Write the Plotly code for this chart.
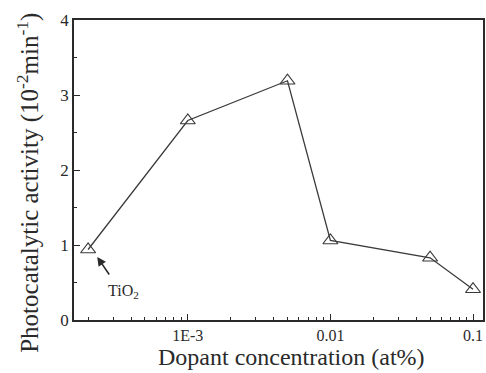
import plotly.graph_objects as go

# Data
dopant_conc = [0.0002, 0.001, 0.005, 0.01, 0.05, 0.1]
activity = [0.94, 2.66, 3.19, 1.06, 0.83, 0.41]
x_tickvals = [0.001, 0.01, 0.1]
x_ticktext = ["1E-3", "0.01", "0.1"]
y_tickvals = [0, 1, 2, 3, 4]

FONT = "Liberation Serif"
INK = "#2a2a2a"

fig = go.Figure()
fig.add_trace(go.Scatter(
    x=dopant_conc, y=activity, mode="lines+markers",
    line=dict(color="#3a3a3a", width=1.3),
    marker=dict(symbol="triangle-up-open", size=13, color="#3a3a3a",
                line=dict(width=1.2, color="#3a3a3a")),
    showlegend=False, cliponaxis=False,
))

fig.add_annotation(x=-3.635, y=0.84, xref="x", yref="y", text="",
                   showarrow=True, arrowhead=2, arrowsize=1.1, arrowwidth=1.6,
                   arrowcolor=INK, ax=13, ay=19)
fig.add_annotation(x=-3.45, y=0.38, xref="x", yref="y",
                   text="TiO<sub>2</sub>", showarrow=False,
                   font=dict(family=FONT, size=16, color=INK))

# axis titles as annotations for precise placement
fig.add_annotation(x=0.533, y=-0.123, xref="paper", yref="paper",
                   xanchor="center", yanchor="middle", showarrow=False,
                   text="Dopant concentration (at%)",
                   font=dict(family=FONT, size=24, color=INK))
fig.add_annotation(x=-0.112, y=0.458, xref="paper", yref="paper",
                   xanchor="center", yanchor="middle", showarrow=False,
                   textangle=-90,
                   text="Photocatalytic activity (10<sup>-2</sup>min<sup>-1</sup>)",
                   font=dict(family=FONT, size=25, color=INK))

fig.update_layout(
    width=486, height=373,
    margin=dict(l=74, r=1, t=20, b=53),
    paper_bgcolor="white", plot_bgcolor="white",
    font=dict(family=FONT, color=INK),
)
fig.update_xaxes(
    type="log", range=[-3.798, -0.93],
    tickvals=x_tickvals, ticktext=x_ticktext,
    ticks="inside", ticklen=6, tickwidth=1.2, tickcolor=INK,
    minor=dict(ticks="inside", ticklen=3.5, tickwidth=1, tickcolor=INK, dtick="D1", showgrid=False),
    showline=True, linecolor=INK, linewidth=1.6, mirror=True,
    showgrid=False, zeroline=False,
    tickfont=dict(family=FONT, size=16, color=INK),
)
fig.update_yaxes(
    range=[0, 4], tickvals=y_tickvals,
    ticks="inside", ticklen=6, tickwidth=1.2, tickcolor=INK,
    minor=dict(ticks="inside", ticklen=3.5, tickwidth=1, tickcolor=INK, dtick=0.5, showgrid=False),
    showline=True, linecolor=INK, linewidth=1.6, mirror=True,
    showgrid=False, zeroline=False,
    tickfont=dict(family=FONT, size=17, color=INK),
)

fig.write_html("out.html",
               config={"displayModeBar": False},
               post_script="document.body.style.margin='0';document.body.style.overflow='hidden';")
